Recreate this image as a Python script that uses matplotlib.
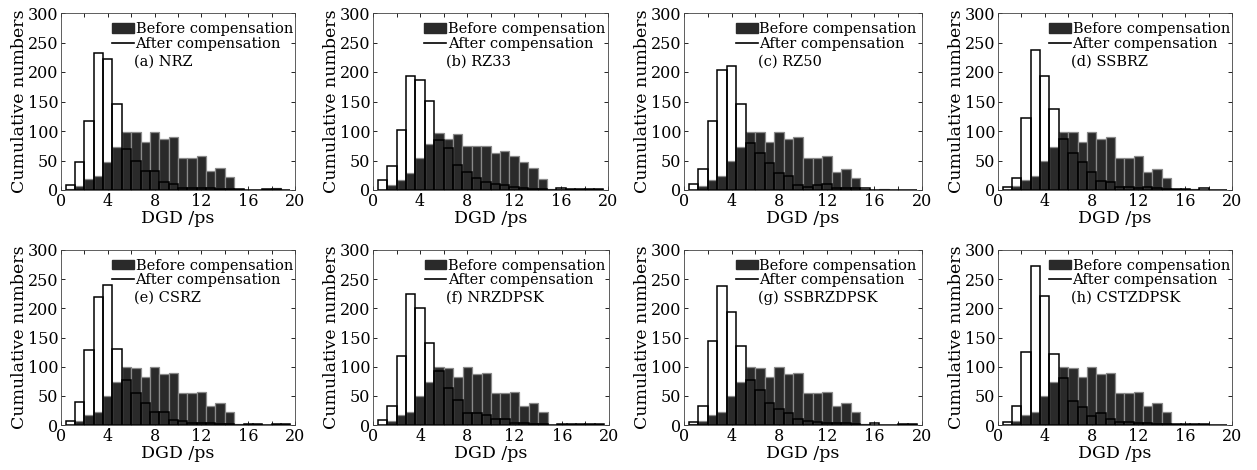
import matplotlib
matplotlib.use("Agg")
import matplotlib.pyplot as plt
import numpy as np
from matplotlib.patches import Patch
from matplotlib.lines import Line2D
from matplotlib.ticker import MultipleLocator

plt.rcParams['font.family'] = ['DejaVu Serif']
plt.rcParams['mathtext.fontset'] = 'dejavuserif'

# histogram bin centres (ps), bin width 0.8 ps
bin_centers = [0.8, 1.6, 2.4, 3.2, 4.0, 4.8, 5.6, 6.4, 7.2, 8.0, 8.8, 9.6,
               10.4, 11.2, 12.0, 12.8, 13.6, 14.4, 15.2, 16.0, 16.8, 17.6, 18.4, 19.2]
bin_width = 0.8

labels = ['(a) NRZ', '(b) RZ33', '(c) RZ50', '(d) SSBRZ',
          '(e) CSRZ', '(f) NRZDPSK', '(g) SSBRZDPSK', '(h) CSTZDPSK']

before_a = [2, 7, 18, 23, 48, 73, 98, 98, 82, 99, 87, 89, 55, 55, 57, 32, 37, 22, 2, 0, 0, 1, 4, 0]
after_a = [8, 47, 117, 233, 222, 145, 70, 50, 33, 33, 13, 10, 4, 3, 3, 3, 2, 1, 1, 0, 0, 1, 2, 0]

before_b = [0, 9, 17, 28, 54, 78, 96, 86, 95, 75, 75, 75, 62, 66, 58, 48, 38, 18, 2, 2, 1, 1, 1, 1]
after_b = [17, 40, 101, 193, 187, 151, 85, 72, 43, 30, 20, 13, 10, 8, 5, 3, 2, 1, 0, 3, 1, 1, 1, 1]

before_c = [0, 7, 17, 23, 49, 73, 99, 98, 82, 99, 87, 89, 55, 55, 57, 31, 36, 21, 2, 0, 2, 0, 0, 0]
after_c = [10, 35, 117, 203, 211, 145, 80, 63, 45, 28, 23, 8, 5, 8, 10, 3, 3, 4, 3, 0, 0, 0, 0, 0]

before_d = [0, 7, 17, 23, 49, 73, 99, 98, 82, 99, 87, 89, 55, 55, 57, 31, 36, 21, 2, 1, 1, 0, 0, 0]
after_d = [5, 20, 122, 237, 193, 137, 87, 63, 48, 30, 15, 13, 5, 5, 3, 5, 3, 2, 1, 1, 0, 3, 0, 0]

before_e = [0, 7, 17, 23, 49, 73, 99, 98, 82, 99, 87, 89, 55, 55, 57, 32, 37, 22, 2, 2, 2, 0, 2, 2]
after_e = [7, 39, 129, 219, 240, 130, 77, 55, 37, 22, 22, 8, 7, 3, 3, 3, 2, 1, 0, 2, 2, 0, 2, 2]

before_f = [0, 7, 17, 23, 49, 73, 99, 98, 82, 99, 87, 89, 55, 55, 57, 32, 37, 22, 0, 0, 1, 1, 1, 0]
after_f = [8, 33, 119, 224, 201, 141, 92, 63, 43, 21, 20, 17, 10, 10, 3, 3, 2, 1, 0, 2, 2, 2, 2, 2]

before_g = [1, 7, 17, 23, 49, 73, 99, 98, 82, 99, 87, 89, 55, 55, 57, 32, 37, 22, 1, 0, 0, 0, 2, 2]
after_g = [5, 32, 144, 238, 194, 136, 78, 60, 37, 27, 20, 10, 7, 5, 3, 3, 3, 1, 0, 3, 0, 0, 2, 2]

before_h = [0, 7, 17, 23, 49, 73, 99, 98, 82, 99, 87, 89, 55, 55, 57, 32, 37, 22, 1, 1, 1, 1, 0, 0]
after_h = [5, 33, 125, 273, 222, 122, 80, 42, 31, 16, 21, 10, 5, 5, 4, 3, 2, 1, 1, 1, 2, 1, 0, 0]

before_all = [before_a, before_b, before_c, before_d, before_e, before_f, before_g, before_h]
after_all = [after_a, after_b, after_c, after_d, after_e, after_f, after_g, after_h]

W, H = 1257, 470
fig = plt.figure(figsize=(W / 100, H / 100), dpi=100)

# axes boxes in pixels: left, top, width, height
boxes = [(61, 13, 234, 177), (373, 13, 235, 177), (684, 13, 238, 177), (998, 13, 234, 177),
         (61, 250, 234, 175), (373, 250, 236, 175), (684, 250, 238, 175), (998, 250, 234, 175)]

dark = '#2a2a2a'

for i, (l, t, w, h) in enumerate(boxes):
    ax = fig.add_axes([l / W, 1 - (t + h) / H, w / W, h / H])
    ax.bar(bin_centers, before_all[i], width=bin_width, color=dark,
           edgecolor='#8a8a8a', linewidth=0.9, zorder=2)
    ax.bar(bin_centers, after_all[i], width=bin_width, fill=False,
           edgecolor='black', linewidth=1.1, zorder=3)

    ax.set_xlim(0, 20)
    ax.set_ylim(0, 300)
    ax.xaxis.set_major_locator(MultipleLocator(4))
    ax.xaxis.set_minor_locator(MultipleLocator(2))
    ax.yaxis.set_major_locator(MultipleLocator(50))
    ax.tick_params(which='both', direction='in', top=True, right=True,
                   labelsize=11.5, pad=2, width=0.6)
    ax.tick_params(which='major', length=3)
    ax.tick_params(which='minor', length=3)
    for s in ax.spines.values():
        s.set_linewidth(0.6)
        s.set_color('#444444')
    ax.set_xlabel('DGD /ps', fontsize=12.5, labelpad=0)
    ax.set_ylabel('Cumulative numbers', fontsize=12.5, labelpad=0)

    handles = [Patch(facecolor=dark, edgecolor=dark),
               Line2D([0], [0], color='black', linewidth=1.2)]
    ax.legend(handles, ['Before compensation', 'After compensation'],
              loc='upper left', bbox_to_anchor=(0.2, 0.975), frameon=False,
              fontsize=10.5, handlelength=1.5, handleheight=0.65,
              handletextpad=0.1, labelspacing=0.05, borderpad=0.3,
              borderaxespad=0)
    ax.text(0.31, 0.725, labels[i], transform=ax.transAxes, fontsize=10.5,
            va='center', ha='left')

fig.savefig('out.png', dpi=100)
